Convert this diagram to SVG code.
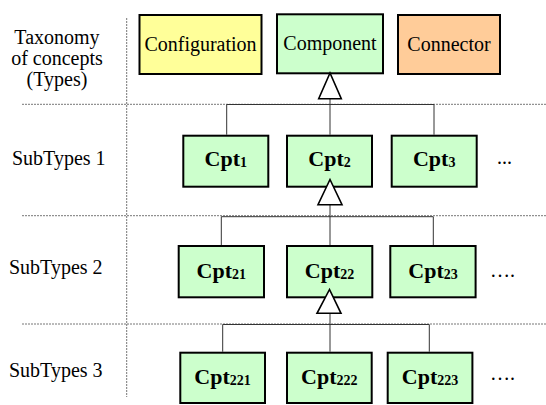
<svg xmlns="http://www.w3.org/2000/svg" width="546" height="405" viewBox="0 0 546 405">
<style>
.lbl{font-family:"Liberation Serif","Times New Roman",serif;font-size:20px;fill:#000}
.top{font-family:"Liberation Serif","Times New Roman",serif;font-size:20px;fill:#000;text-anchor:middle}
.cpt{font-family:"Liberation Serif","Times New Roman",serif;font-size:22px;font-weight:bold;fill:#000;text-anchor:middle}
.sub{font-size:14px}
.box{stroke:#000;stroke-width:2}
.g{fill:#CCFFCC}
.sep{stroke:#777;stroke-width:1;stroke-dasharray:2 1;fill:none}
.con{stroke:#333;stroke-width:1;fill:none}
.tri{fill:#fff;stroke:#000;stroke-width:1.6}
</style>
<rect width="546" height="405" fill="#fff"/>
<g id="separators">
<line class="sep" x1="22" y1="104.3" x2="546" y2="104.3"/>
<line class="sep" x1="22" y1="215.7" x2="546" y2="215.7"/>
<line class="sep" x1="22" y1="324" x2="546" y2="324"/>
<line class="sep" x1="126.7" y1="18" x2="126.7" y2="397"/>
</g>
<g id="labels">
<text class="lbl" x="57" y="44" text-anchor="middle">Taxonomy</text>
<text class="lbl" x="57" y="65" text-anchor="middle">of concepts</text>
<text class="lbl" x="57" y="86" text-anchor="middle">(Types)</text>
<text class="lbl" x="12" y="165">SubTypes 1</text>
<text class="lbl" x="9" y="274">SubTypes 2</text>
<text class="lbl" x="9" y="377">SubTypes 3</text>
</g>
<g id="connectors">
<polyline class="con" points="226.7,134.7 226.7,104.5 434,104.5 434,134.7"/>
<line class="con" x1="330" y1="98.7" x2="330" y2="134.7"/>
<polyline class="con" points="221.3,245 221.3,216.7 433.3,216.7 433.3,245"/>
<line class="con" x1="330" y1="204.7" x2="330" y2="245"/>
<polyline class="con" points="222.7,351.7 222.7,324.5 429.3,324.5 429.3,351.7"/>
<line class="con" x1="330" y1="313.3" x2="330" y2="351.7"/>
</g>
<g id="configuration">
<rect class="box" x="139.5" y="15" width="122" height="59" fill="#FFFF99"/>
<text class="top" x="200.5" y="51">Configuration</text>
</g>
<g id="component">
<rect class="box g" x="277" y="14.3" width="106" height="59"/>
<text class="top" x="330" y="50">Component</text>
</g>
<g id="connector">
<rect class="box" x="398" y="15" width="102" height="59" fill="#FFCC99"/>
<text class="top" x="449" y="51">Connector</text>
</g>
<g id="cpt1">
<rect class="box g" x="183.3" y="135.7" width="85" height="51"/>
<text class="cpt" x="225.8" y="166">Cpt<tspan class="sub" dy="1">1</tspan></text>
</g>
<g id="cpt2">
<rect class="box g" x="287" y="135.7" width="85" height="51"/>
<text class="cpt" x="329.5" y="166">Cpt<tspan class="sub" dy="1">2</tspan></text>
</g>
<g id="cpt3">
<rect class="box g" x="391.7" y="135.7" width="85" height="51"/>
<text class="cpt" x="434.2" y="166">Cpt<tspan class="sub" dy="1">3</tspan></text>
</g>
<text class="lbl" x="497" y="164">...</text>
<g id="cpt21">
<rect class="box g" x="178.7" y="246" width="85.3" height="51.3"/>
<text class="cpt" x="221.3" y="278">Cpt<tspan class="sub" dy="1">21</tspan></text>
</g>
<g id="cpt22">
<rect class="box g" x="287" y="246" width="85.3" height="51.3"/>
<text class="cpt" x="329.6" y="278">Cpt<tspan class="sub" dy="1">22</tspan></text>
</g>
<g id="cpt23">
<rect class="box g" x="390.3" y="246" width="85.3" height="51.3"/>
<text class="cpt" x="433" y="278">Cpt<tspan class="sub" dy="1">23</tspan></text>
</g>
<text class="lbl" x="490" y="277">….</text>
<g id="cpt221">
<rect class="box g" x="180.3" y="352.7" width="84.7" height="50.3"/>
<text class="cpt" x="222.6" y="384">Cpt<tspan class="sub" dy="1">221</tspan></text>
</g>
<g id="cpt222">
<rect class="box g" x="287" y="352.7" width="84.7" height="50.3"/>
<text class="cpt" x="329.3" y="384">Cpt<tspan class="sub" dy="1">222</tspan></text>
</g>
<g id="cpt223">
<rect class="box g" x="387.7" y="352.7" width="84.7" height="50.3"/>
<text class="cpt" x="430" y="384">Cpt<tspan class="sub" dy="1">223</tspan></text>
</g>
<text class="lbl" x="490" y="380">….</text>
<g id="generalizations">
<polygon class="tri" points="330,73 318.7,98.7 341.3,98.7"/>
<polygon class="tri" points="330,179.5 318,204.7 342,204.7"/>
<polygon class="tri" points="329.5,289.5 317,313.3 341,313.3"/>
</g>
</svg>
